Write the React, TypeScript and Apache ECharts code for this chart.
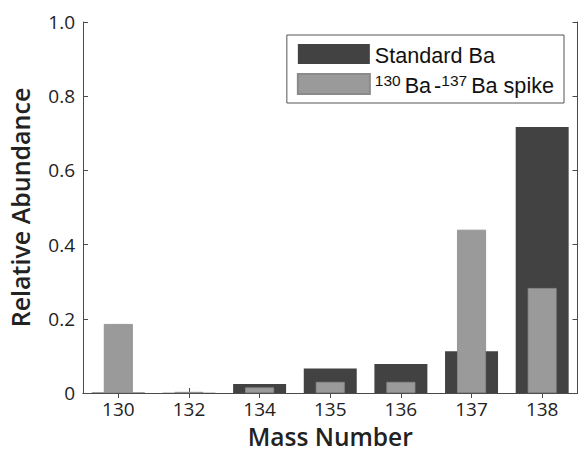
import React, { useEffect, useRef } from "react";
import * as echarts from "echarts";

const categories = ["130", "132", "134", "135", "136", "137", "138"];
const standardBa = [0.00106, 0.00101, 0.0242, 0.0659, 0.0785, 0.1123, 0.717];
const spikeBa = [0.186, 0.003, 0.015, 0.03, 0.03, 0.44, 0.283];

const FONT = "Open Sans";

export default function App() {
  const ref = useRef<HTMLDivElement>(null);
  useEffect(() => {
    if (!ref.current) return;
    const chart = echarts.init(ref.current, null, { renderer: "svg" });
    const axisLine = { show: true, lineStyle: { color: "#4a4a4a", width: 1 } };
    const tick = { show: true, inside: true, length: 5, lineStyle: { color: "#4a4a4a" } };
    chart.setOption({
      animation: false,
      backgroundColor: "#fff",
      grid: { left: 83, right: 1.5, top: 22, bottom: 56, containLabel: false, outerBoundsMode: "none" },
      legend: {
        right: 15,
        top: 35,
        orient: "vertical",
        itemWidth: 72,
        itemHeight: 20,
        itemGap: 6,
        padding: [9, 10, 7, 10],
        borderColor: "#555",
        borderWidth: 1,
        backgroundColor: "#fff",
        icon: "rect",
        data: ["Standard Ba", "spike"],
        formatter: (name: string) =>
          name === "spike"
            ? "{sup|130}{b|Ba}{d|-}{sup|137}{b|Ba spike}"
            : "{b|Standard Ba}",
        textStyle: {
          fontFamily: "Liberation Sans",
          fontSize: 21.6,
          color: "#111",
          rich: {
            b: { fontFamily: "Liberation Sans", fontSize: 21.6, color: "#111", lineHeight: 24, verticalAlign: "bottom" },
            d: { fontFamily: "Liberation Sans", fontSize: 21.6, color: "#111", lineHeight: 24, verticalAlign: "bottom", padding: [0, 0, 0, 3] },
            sup: { fontFamily: "Liberation Sans", fontSize: 15.5, color: "#111", lineHeight: 24, verticalAlign: "top", padding: [0, 4, 8, 0] },
          },
        },
      },
      xAxis: [
        {
          type: "category",
          data: categories,
          position: "bottom",
          boundaryGap: true,
          axisLine,
          axisTick: { ...tick, alignWithLabel: true },
          axisLabel: { fontFamily: FONT, fontSize: 19, color: "#222", margin: 6 },
          name: "Mass Number",
          nameLocation: "middle",
          nameGap: 31,
          nameTextStyle: { fontFamily: FONT, fontSize: 24.5, fontWeight: 600, color: "#222", lineHeight: 24 },
        },
        {
          type: "category",
          data: categories,
          position: "top",
          boundaryGap: true,
          axisLine,
          axisTick: { ...tick, alignWithLabel: true },
          axisLabel: { show: false },
        },
      ],
      yAxis: [
        {
          type: "value",
          min: 0,
          max: 1,
          interval: 0.2,
          position: "left",
          axisLine,
          splitLine: { show: false },
          axisTick: tick,
          axisLabel: {
            fontFamily: FONT,
            fontSize: 19,
            color: "#222",
            margin: 8,
            formatter: (v: number) => (v === 0 ? "0" : v.toFixed(1)),
          },
          name: "Relative Abundance",
          nameLocation: "middle",
          nameGap: 51,
          nameTextStyle: { fontFamily: FONT, fontSize: 25, fontWeight: 600, color: "#222", lineHeight: 25 },
        },
        {
          type: "value",
          min: 0,
          max: 1,
          interval: 0.2,
          position: "right",
          axisLine,
          splitLine: { show: false },
          axisTick: tick,
          axisLabel: { show: false },
        },
      ],
      series: [
        {
          name: "Standard Ba",
          type: "bar",
          xAxisIndex: 0,
          yAxisIndex: 0,
          data: standardBa,
          barWidth: "75%",
          itemStyle: { color: "#424242" },
        },
        {
          name: "spike",
          type: "bar",
          xAxisIndex: 1,
          yAxisIndex: 0,
          data: spikeBa,
          barWidth: "41%",
          z: 3,
          itemStyle: { color: "#9a9a9a", borderColor: "#8a8a8a", borderWidth: 0.8 },
        },
      ],
    });
    return () => chart.dispose();
  }, []);
  return <div ref={ref} style={{ width: 579, height: 449, position: "absolute", left: 0, top: 0 }} />;
}
